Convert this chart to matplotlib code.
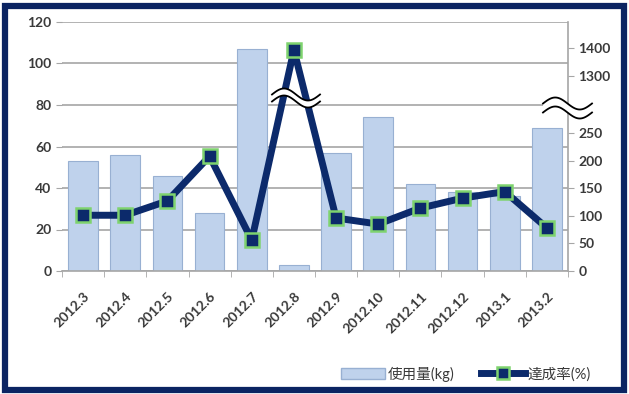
import numpy as np
import matplotlib
matplotlib.use("Agg")
import matplotlib.pyplot as plt
from matplotlib.patches import Rectangle, Polygon
from matplotlib.lines import Line2D
from matplotlib.patches import Patch

plt.rcParams['font.family'] = ['Lato', 'Noto Sans CJK JP', 'DejaVu Sans']

categories = ["2012.3", "2012.4", "2012.5", "2012.6", "2012.7", "2012.8",
              "2012.9", "2012.10", "2012.11", "2012.12", "2013.1", "2013.2"]
usage_kg = [53, 56, 46, 28, 107, 3, 57, 74, 42, 38, 36, 69]
rate_pct = [101, 101, 127, 208, 56, 1393, 96, 85, 114, 132, 144, 78]
left_ticks = [0, 20, 40, 60, 80, 100, 120]
right_ticks = [0, 50, 100, 150, 200, 250, 1300, 1400]
bar_label = "使用量(kg)"
line_label = "達成率(%)"

# broken right scale (piecewise linear, mapped onto left-axis units)
_v = np.array([-200, 0, 300, 1200, 1400, 2000], dtype=float)
_l = np.array([-53.2, 0, 79.8, 80.5, 107.5, 188.5], dtype=float)
def fwd(v):
    return np.interp(v, _v, _l)
def inv(l):
    return np.interp(l, _l, _v)

W, H = 629, 394
fig = plt.figure(figsize=(W/100, H/100), dpi=100)
ax = fig.add_axes([62/W, 1-271/H, (568-62)/W, (271-22)/H])
ax2 = ax.twinx()

txtc = '#3a3a3a'
x = np.arange(len(categories))
ax.bar(x, usage_kg, width=0.7, color='#bfd2ec', edgecolor='#98b0d2', linewidth=0.8, zorder=2)
ax.set_ylim(0, 120)
ax.set_xlim(-0.5, len(categories)-0.5)
ax.set_yticks(left_ticks)
ax.yaxis.grid(True, color='#a6a6a6', linewidth=1.2, zorder=0)
ax.set_axisbelow(True)
ax.tick_params(axis='y', labelsize=10, colors=txtc, length=4, color='#a6a6a6')
for lab in ax.get_yticklabels():
    lab.set_fontweight('bold')
ax.set_xticks(x)
ax.set_xticklabels(categories, rotation=45, ha='right', rotation_mode='anchor',
                   fontsize=10, color=txtc, fontweight='bold')
ax.tick_params(axis='x', length=0, pad=14)
ax.set_xticks(np.arange(-0.5, len(categories)), minor=True)
ax.tick_params(axis='x', which='minor', length=4, color='#a6a6a6')
for s in ['top', 'left', 'right']:
    ax.spines[s].set_visible(False)
ax.spines['bottom'].set_color('#a6a6a6')
ax.spines['bottom'].set_linewidth(1.2)

ax2.set_yscale('function', functions=(fwd, inv))
ax2.set_ylim(inv(0), inv(120))
ax2.plot(x, rate_pct, color='#0c2a6b', linewidth=5, marker='s', markersize=10,
         markerfacecolor='#0c2a6b', markeredgecolor='#7ed36e', markeredgewidth=1.8, zorder=5,
         solid_joinstyle='round')
ax2.set_yticks(right_ticks)
ax2.set_yticklabels([str(t) for t in right_ticks], fontweight='bold')
ax2.yaxis.set_minor_locator(matplotlib.ticker.NullLocator())
ax2.tick_params(axis='y', labelsize=10, colors=txtc, length=4, color='#a6a6a6')
for s in ['top', 'left', 'bottom']:
    ax2.spines[s].set_visible(False)
ax2.spines['right'].set_color('#a6a6a6')
ax2.spines['right'].set_linewidth(1.2)

def wave_break(fig, x0, x1, yc, amp, gap):
    xs = np.linspace(x0, x1, 60)
    ph = np.linspace(0, 2*np.pi, 60)
    y1 = yc + gap/2 + amp*np.sin(ph)
    y2 = yc - gap/2 + amp*np.sin(ph)
    verts = np.concatenate([np.column_stack([xs, y1]), np.column_stack([xs[::-1], y2[::-1]])])
    fig.add_artist(Polygon(verts, closed=True, facecolor='white', edgecolor='none',
                           transform=fig.transFigure, zorder=10))
    for yy in (y1, y2):
        fig.add_artist(plt.Line2D(xs, yy, color='black', linewidth=1.3,
                                  transform=fig.transFigure, zorder=11))

wave_break(fig, 272/W, 320/W, 1-98/H, 6/H, 7/H)
wave_break(fig, 543/W, 592/W, 1-108/H, 6/H, 9/H)

handles = [Patch(facecolor='#bfd2ec', edgecolor='#98b0d2'),
           Line2D([], [], color='#0c2a6b', linewidth=5, marker='s', markersize=9,
                  markerfacecolor='#0c2a6b', markeredgecolor='#7ed36e', markeredgewidth=1.8)]
fig.legend(handles, [bar_label, line_label], loc='center', bbox_to_anchor=(466/W, 1-374/H),
           ncol=2, frameon=False, fontsize=10.5, handlelength=3.0, handletextpad=0.2,
           columnspacing=1.8, labelcolor=txtc)

fig.add_artist(Rectangle((0.008, 0.01), 0.984, 0.975, transform=fig.transFigure,
                         fill=False, edgecolor='#0b2462', linewidth=4.5, zorder=20))

fig.savefig("out.png", dpi=100)
